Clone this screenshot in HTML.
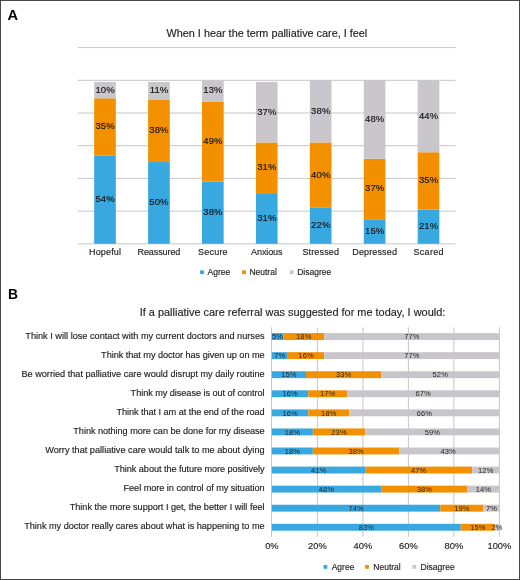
<!DOCTYPE html>
<html><head><meta charset="utf-8"><title>Palliative care survey</title>
<style>html,body{margin:0;padding:0;background:#fff;width:520px;height:580px;overflow:hidden}svg{display:block;will-change:transform}</style>
</head><body>
<svg width="520" height="580" viewBox="0 0 520 580" font-family="Liberation Sans, sans-serif">
<rect x="0" y="0" width="520" height="580" fill="#fff"/>
<text x="7.6" y="19.8" font-size="13.8" font-weight="bold" fill="#000" textLength="10.6" lengthAdjust="spacingAndGlyphs">A</text>
<text x="7.9" y="299.0" font-size="13.8" font-weight="bold" fill="#000">B</text>
<text x="266.90" y="36.90" font-size="10.85" text-anchor="middle" fill="#1e1e1e" stroke="#1e1e1e" stroke-width="0.15">When I hear the term palliative care, I feel</text>
<line x1="78" x2="455.5" y1="243.80" y2="243.80" stroke="#c6c6c6" stroke-width="1"/>
<line x1="78" x2="455.5" y1="211.10" y2="211.10" stroke="#c6c6c6" stroke-width="1"/>
<line x1="78" x2="455.5" y1="178.40" y2="178.40" stroke="#c6c6c6" stroke-width="1"/>
<line x1="78" x2="455.5" y1="145.70" y2="145.70" stroke="#c6c6c6" stroke-width="1"/>
<line x1="78" x2="455.5" y1="113.00" y2="113.00" stroke="#c6c6c6" stroke-width="1"/>
<line x1="78" x2="455.5" y1="80.30" y2="80.30" stroke="#c6c6c6" stroke-width="1"/>
<line x1="78" x2="455.5" y1="47.60" y2="47.60" stroke="#c6c6c6" stroke-width="1"/>
<rect x="94.17" y="155.51" width="21.65" height="88.29" fill="#38a8e0"/>
<rect x="94.17" y="98.28" width="21.65" height="57.23" fill="#f39000"/>
<rect x="94.17" y="81.94" width="21.65" height="16.35" fill="#c9c7cc"/>
<text x="105.10" y="202.06" font-size="9.5" text-anchor="middle" fill="#141414" stroke="#141414" stroke-width="0.15" letter-spacing="0.1">54%</text>
<text x="105.10" y="129.30" font-size="9.5" text-anchor="middle" fill="#141414" stroke="#141414" stroke-width="0.15" letter-spacing="0.1">35%</text>
<text x="105.10" y="92.51" font-size="9.5" text-anchor="middle" fill="#141414" stroke="#141414" stroke-width="0.15" letter-spacing="0.1">10%</text>
<text x="105.00" y="255.30" font-size="9" text-anchor="middle" fill="#1e1e1e" stroke="#1e1e1e" stroke-width="0.15" textLength="32.00" lengthAdjust="spacing">Hopeful</text>
<rect x="148.10" y="162.05" width="21.65" height="81.75" fill="#38a8e0"/>
<rect x="148.10" y="99.92" width="21.65" height="62.13" fill="#f39000"/>
<rect x="148.10" y="81.94" width="21.65" height="17.99" fill="#c9c7cc"/>
<text x="159.02" y="205.33" font-size="9.5" text-anchor="middle" fill="#141414" stroke="#141414" stroke-width="0.15" letter-spacing="0.1">50%</text>
<text x="159.02" y="133.39" font-size="9.5" text-anchor="middle" fill="#141414" stroke="#141414" stroke-width="0.15" letter-spacing="0.1">38%</text>
<text x="159.02" y="93.33" font-size="9.5" text-anchor="middle" fill="#141414" stroke="#141414" stroke-width="0.15" letter-spacing="0.1">11%</text>
<text x="158.92" y="255.30" font-size="9" text-anchor="middle" fill="#1e1e1e" stroke="#1e1e1e" stroke-width="0.15" textLength="42.90" lengthAdjust="spacing">Reassured</text>
<rect x="202.02" y="181.67" width="21.65" height="62.13" fill="#38a8e0"/>
<rect x="202.02" y="101.55" width="21.65" height="80.12" fill="#f39000"/>
<rect x="202.02" y="80.30" width="21.65" height="21.26" fill="#c9c7cc"/>
<text x="212.94" y="215.14" font-size="9.5" text-anchor="middle" fill="#141414" stroke="#141414" stroke-width="0.15" letter-spacing="0.1">38%</text>
<text x="212.94" y="144.01" font-size="9.5" text-anchor="middle" fill="#141414" stroke="#141414" stroke-width="0.15" letter-spacing="0.1">49%</text>
<text x="212.94" y="93.33" font-size="9.5" text-anchor="middle" fill="#141414" stroke="#141414" stroke-width="0.15" letter-spacing="0.1">13%</text>
<text x="212.84" y="255.30" font-size="9" text-anchor="middle" fill="#1e1e1e" stroke="#1e1e1e" stroke-width="0.15" textLength="29.50" lengthAdjust="spacing">Secure</text>
<rect x="255.94" y="193.12" width="21.65" height="50.69" fill="#38a8e0"/>
<rect x="255.94" y="142.43" width="21.65" height="50.69" fill="#f39000"/>
<rect x="255.94" y="81.94" width="21.65" height="60.50" fill="#c9c7cc"/>
<text x="266.86" y="220.86" font-size="9.5" text-anchor="middle" fill="#141414" stroke="#141414" stroke-width="0.15" letter-spacing="0.1">31%</text>
<text x="266.86" y="170.17" font-size="9.5" text-anchor="middle" fill="#141414" stroke="#141414" stroke-width="0.15" letter-spacing="0.1">31%</text>
<text x="266.86" y="114.58" font-size="9.5" text-anchor="middle" fill="#141414" stroke="#141414" stroke-width="0.15" letter-spacing="0.1">37%</text>
<text x="266.76" y="255.30" font-size="9" text-anchor="middle" fill="#1e1e1e" stroke="#1e1e1e" stroke-width="0.15" textLength="31.30" lengthAdjust="spacing">Anxious</text>
<rect x="309.86" y="207.83" width="21.65" height="35.97" fill="#38a8e0"/>
<rect x="309.86" y="142.43" width="21.65" height="65.40" fill="#f39000"/>
<rect x="309.86" y="80.30" width="21.65" height="62.13" fill="#c9c7cc"/>
<text x="320.78" y="228.22" font-size="9.5" text-anchor="middle" fill="#141414" stroke="#141414" stroke-width="0.15" letter-spacing="0.1">22%</text>
<text x="320.78" y="177.53" font-size="9.5" text-anchor="middle" fill="#141414" stroke="#141414" stroke-width="0.15" letter-spacing="0.1">40%</text>
<text x="320.78" y="113.77" font-size="9.5" text-anchor="middle" fill="#141414" stroke="#141414" stroke-width="0.15" letter-spacing="0.1">38%</text>
<text x="320.68" y="255.30" font-size="9" text-anchor="middle" fill="#1e1e1e" stroke="#1e1e1e" stroke-width="0.15" textLength="36.60" lengthAdjust="spacing">Stressed</text>
<rect x="363.78" y="219.28" width="21.65" height="24.53" fill="#38a8e0"/>
<rect x="363.78" y="158.78" width="21.65" height="60.50" fill="#f39000"/>
<rect x="363.78" y="80.30" width="21.65" height="78.48" fill="#c9c7cc"/>
<text x="374.70" y="233.94" font-size="9.5" text-anchor="middle" fill="#141414" stroke="#141414" stroke-width="0.15" letter-spacing="0.1">15%</text>
<text x="374.70" y="191.43" font-size="9.5" text-anchor="middle" fill="#141414" stroke="#141414" stroke-width="0.15" letter-spacing="0.1">37%</text>
<text x="374.70" y="121.94" font-size="9.5" text-anchor="middle" fill="#141414" stroke="#141414" stroke-width="0.15" letter-spacing="0.1">48%</text>
<text x="374.60" y="255.30" font-size="9" text-anchor="middle" fill="#1e1e1e" stroke="#1e1e1e" stroke-width="0.15" textLength="44.60" lengthAdjust="spacing">Depressed</text>
<rect x="417.69" y="209.47" width="21.65" height="34.34" fill="#38a8e0"/>
<rect x="417.69" y="152.24" width="21.65" height="57.23" fill="#f39000"/>
<rect x="417.69" y="80.30" width="21.65" height="71.94" fill="#c9c7cc"/>
<text x="428.62" y="229.03" font-size="9.5" text-anchor="middle" fill="#141414" stroke="#141414" stroke-width="0.15" letter-spacing="0.1">21%</text>
<text x="428.62" y="183.25" font-size="9.5" text-anchor="middle" fill="#141414" stroke="#141414" stroke-width="0.15" letter-spacing="0.1">35%</text>
<text x="428.62" y="118.67" font-size="9.5" text-anchor="middle" fill="#141414" stroke="#141414" stroke-width="0.15" letter-spacing="0.1">44%</text>
<text x="428.52" y="255.30" font-size="9" text-anchor="middle" fill="#1e1e1e" stroke="#1e1e1e" stroke-width="0.15" textLength="29.90" lengthAdjust="spacing">Scared</text>
<rect x="200.1" y="270.3" width="3.8" height="3.8" fill="#38a8e0"/>
<text x="207.60" y="275.20" font-size="8.5" fill="#1e1e1e" stroke="#1e1e1e" stroke-width="0.15">Agree</text>
<rect x="242.1" y="270.3" width="3.8" height="3.8" fill="#f39000"/>
<text x="249.40" y="275.20" font-size="8.5" fill="#1e1e1e" stroke="#1e1e1e" stroke-width="0.15">Neutral</text>
<rect x="289.8" y="270.3" width="3.8" height="3.8" fill="#c9c7cc"/>
<text x="297.20" y="275.20" font-size="8.5" fill="#1e1e1e" stroke="#1e1e1e" stroke-width="0.15">Disagree</text>
<text x="292.50" y="315.80" font-size="10.95" text-anchor="middle" fill="#1e1e1e" stroke="#1e1e1e" stroke-width="0.15">If a palliative care referral was suggested for me today, I would:</text>
<line x1="271.5" x2="271.5" y1="327.3" y2="536.8" stroke="#c6c6c6" stroke-width="1"/>
<line x1="317.40" x2="317.40" y1="327.3" y2="536.8" stroke="#c6c6c6" stroke-width="1"/>
<line x1="362.90" x2="362.90" y1="327.3" y2="536.8" stroke="#c6c6c6" stroke-width="1"/>
<line x1="408.40" x2="408.40" y1="327.3" y2="536.8" stroke="#c6c6c6" stroke-width="1"/>
<line x1="453.90" x2="453.90" y1="327.3" y2="536.8" stroke="#c6c6c6" stroke-width="1"/>
<line x1="499.40" x2="499.40" y1="327.3" y2="536.8" stroke="#c6c6c6" stroke-width="1"/>
<rect x="271.90" y="333.10" width="11.38" height="6.9" fill="#38a8e0"/>
<rect x="283.27" y="333.10" width="40.95" height="6.9" fill="#f39000"/>
<rect x="324.22" y="333.10" width="175.17" height="6.9" fill="#c8c6cb"/>
<text x="277.59" y="339.24" font-size="7.5" text-anchor="middle" fill="#262626" letter-spacing="0.1">5%</text>
<text x="303.75" y="339.24" font-size="7.5" text-anchor="middle" fill="#262626" letter-spacing="0.1">18%</text>
<text x="411.81" y="339.24" font-size="7.5" text-anchor="middle" fill="#262626" letter-spacing="0.1">77%</text>
<text x="264.60" y="339.05" font-size="9.17" text-anchor="end" fill="#1e1e1e" stroke="#1e1e1e" stroke-width="0.15" textLength="239.30" lengthAdjust="spacing">Think I will lose contact with my current doctors and nurses</text>
<rect x="271.90" y="352.17" width="15.92" height="6.9" fill="#38a8e0"/>
<rect x="287.82" y="352.17" width="36.40" height="6.9" fill="#f39000"/>
<rect x="324.22" y="352.17" width="175.17" height="6.9" fill="#c8c6cb"/>
<text x="279.86" y="358.31" font-size="7.5" text-anchor="middle" fill="#262626" letter-spacing="0.1">7%</text>
<text x="306.02" y="358.31" font-size="7.5" text-anchor="middle" fill="#262626" letter-spacing="0.1">16%</text>
<text x="411.81" y="358.31" font-size="7.5" text-anchor="middle" fill="#262626" letter-spacing="0.1">77%</text>
<text x="264.60" y="358.05" font-size="9.17" text-anchor="end" fill="#1e1e1e" stroke="#1e1e1e" stroke-width="0.15" textLength="163.50" lengthAdjust="spacing">Think that my doctor has given up on me</text>
<rect x="271.90" y="371.24" width="34.12" height="6.9" fill="#38a8e0"/>
<rect x="306.02" y="371.24" width="75.08" height="6.9" fill="#f39000"/>
<rect x="381.10" y="371.24" width="118.30" height="6.9" fill="#c8c6cb"/>
<text x="288.96" y="377.38" font-size="7.5" text-anchor="middle" fill="#262626" letter-spacing="0.1">15%</text>
<text x="343.56" y="377.38" font-size="7.5" text-anchor="middle" fill="#262626" letter-spacing="0.1">33%</text>
<text x="440.25" y="377.38" font-size="7.5" text-anchor="middle" fill="#262626" letter-spacing="0.1">52%</text>
<text x="264.60" y="377.05" font-size="9.17" text-anchor="end" fill="#1e1e1e" stroke="#1e1e1e" stroke-width="0.15" textLength="243.20" lengthAdjust="spacing">Be worried that palliative care would disrupt my daily routine</text>
<rect x="271.90" y="390.31" width="36.40" height="6.9" fill="#38a8e0"/>
<rect x="308.30" y="390.31" width="38.67" height="6.9" fill="#f39000"/>
<rect x="346.97" y="390.31" width="152.42" height="6.9" fill="#c8c6cb"/>
<text x="290.10" y="396.44" font-size="7.5" text-anchor="middle" fill="#262626" letter-spacing="0.1">16%</text>
<text x="327.64" y="396.44" font-size="7.5" text-anchor="middle" fill="#262626" letter-spacing="0.1">17%</text>
<text x="423.19" y="396.44" font-size="7.5" text-anchor="middle" fill="#262626" letter-spacing="0.1">67%</text>
<text x="264.60" y="396.05" font-size="9.17" text-anchor="end" fill="#1e1e1e" stroke="#1e1e1e" stroke-width="0.15" textLength="134.00" lengthAdjust="spacing">Think my disease is out of control</text>
<rect x="271.90" y="409.38" width="36.40" height="6.9" fill="#38a8e0"/>
<rect x="308.30" y="409.38" width="40.95" height="6.9" fill="#f39000"/>
<rect x="349.25" y="409.38" width="150.15" height="6.9" fill="#c8c6cb"/>
<text x="290.10" y="415.51" font-size="7.5" text-anchor="middle" fill="#262626" letter-spacing="0.1">16%</text>
<text x="328.77" y="415.51" font-size="7.5" text-anchor="middle" fill="#262626" letter-spacing="0.1">18%</text>
<text x="424.32" y="415.51" font-size="7.5" text-anchor="middle" fill="#262626" letter-spacing="0.1">66%</text>
<text x="264.60" y="415.05" font-size="9.17" text-anchor="end" fill="#1e1e1e" stroke="#1e1e1e" stroke-width="0.15" textLength="148.20" lengthAdjust="spacing">Think that I am at the end of the road</text>
<rect x="271.90" y="428.45" width="40.95" height="6.9" fill="#38a8e0"/>
<rect x="312.85" y="428.45" width="52.32" height="6.9" fill="#f39000"/>
<rect x="365.17" y="428.45" width="134.22" height="6.9" fill="#c8c6cb"/>
<text x="292.38" y="434.59" font-size="7.5" text-anchor="middle" fill="#262626" letter-spacing="0.1">18%</text>
<text x="339.01" y="434.59" font-size="7.5" text-anchor="middle" fill="#262626" letter-spacing="0.1">23%</text>
<text x="432.29" y="434.59" font-size="7.5" text-anchor="middle" fill="#262626" letter-spacing="0.1">59%</text>
<text x="264.60" y="434.05" font-size="9.17" text-anchor="end" fill="#1e1e1e" stroke="#1e1e1e" stroke-width="0.15" textLength="191.30" lengthAdjust="spacing">Think nothing more can be done for my disease</text>
<rect x="271.90" y="447.52" width="40.95" height="6.9" fill="#38a8e0"/>
<rect x="312.85" y="447.52" width="86.45" height="6.9" fill="#f39000"/>
<rect x="399.30" y="447.52" width="100.10" height="6.9" fill="#c8c6cb"/>
<text x="292.38" y="453.66" font-size="7.5" text-anchor="middle" fill="#262626" letter-spacing="0.1">18%</text>
<text x="356.07" y="453.66" font-size="7.5" text-anchor="middle" fill="#262626" letter-spacing="0.1">38%</text>
<text x="448.21" y="453.66" font-size="7.5" text-anchor="middle" fill="#262626" letter-spacing="0.1">43%</text>
<text x="264.60" y="453.05" font-size="9.17" text-anchor="end" fill="#1e1e1e" stroke="#1e1e1e" stroke-width="0.15" textLength="219.40" lengthAdjust="spacing">Worry that palliative care would talk to me about dying</text>
<rect x="271.90" y="466.59" width="93.27" height="6.9" fill="#38a8e0"/>
<rect x="365.17" y="466.59" width="106.92" height="6.9" fill="#f39000"/>
<rect x="472.10" y="466.59" width="27.30" height="6.9" fill="#c8c6cb"/>
<text x="318.54" y="472.73" font-size="7.5" text-anchor="middle" fill="#262626" letter-spacing="0.1">41%</text>
<text x="418.64" y="472.73" font-size="7.5" text-anchor="middle" fill="#262626" letter-spacing="0.1">47%</text>
<text x="485.75" y="472.73" font-size="7.5" text-anchor="middle" fill="#262626" letter-spacing="0.1">12%</text>
<text x="264.60" y="472.05" font-size="9.17" text-anchor="end" fill="#1e1e1e" stroke="#1e1e1e" stroke-width="0.15" textLength="150.30" lengthAdjust="spacing">Think about the future more positively</text>
<rect x="271.90" y="485.66" width="109.20" height="6.9" fill="#38a8e0"/>
<rect x="381.10" y="485.66" width="86.45" height="6.9" fill="#f39000"/>
<rect x="467.55" y="485.66" width="31.85" height="6.9" fill="#c8c6cb"/>
<text x="326.50" y="491.80" font-size="7.5" text-anchor="middle" fill="#262626" letter-spacing="0.1">48%</text>
<text x="424.32" y="491.80" font-size="7.5" text-anchor="middle" fill="#262626" letter-spacing="0.1">38%</text>
<text x="483.47" y="491.80" font-size="7.5" text-anchor="middle" fill="#262626" letter-spacing="0.1">14%</text>
<text x="264.60" y="491.05" font-size="9.17" text-anchor="end" fill="#1e1e1e" stroke="#1e1e1e" stroke-width="0.15" textLength="141.10" lengthAdjust="spacing">Feel more in control of my situation</text>
<rect x="271.90" y="504.73" width="168.35" height="6.9" fill="#38a8e0"/>
<rect x="440.25" y="504.73" width="43.23" height="6.9" fill="#f39000"/>
<rect x="483.47" y="504.73" width="15.92" height="6.9" fill="#c8c6cb"/>
<text x="356.07" y="510.87" font-size="7.5" text-anchor="middle" fill="#262626" letter-spacing="0.1">74%</text>
<text x="461.86" y="510.87" font-size="7.5" text-anchor="middle" fill="#262626" letter-spacing="0.1">19%</text>
<text x="491.44" y="510.87" font-size="7.5" text-anchor="middle" fill="#262626" letter-spacing="0.1">7%</text>
<text x="264.60" y="510.05" font-size="9.17" text-anchor="end" fill="#1e1e1e" stroke="#1e1e1e" stroke-width="0.15" textLength="194.90" lengthAdjust="spacing">Think the more support I get, the better I will feel</text>
<rect x="271.90" y="523.80" width="188.82" height="6.9" fill="#38a8e0"/>
<rect x="460.72" y="523.80" width="34.12" height="6.9" fill="#f39000"/>
<rect x="494.85" y="523.80" width="4.55" height="6.9" fill="#c8c6cb"/>
<text x="366.31" y="529.93" font-size="7.5" text-anchor="middle" fill="#262626" letter-spacing="0.1">83%</text>
<text x="477.79" y="529.93" font-size="7.5" text-anchor="middle" fill="#262626" letter-spacing="0.1">15%</text>
<text x="497.12" y="529.93" font-size="7.5" text-anchor="middle" fill="#262626" letter-spacing="0.1">2%</text>
<text x="264.60" y="529.05" font-size="9.17" text-anchor="end" fill="#1e1e1e" stroke="#1e1e1e" stroke-width="0.15" textLength="240.40" lengthAdjust="spacing">Think my doctor really cares about what is happening to me</text>
<text x="271.90" y="549.00" font-size="9.3" text-anchor="middle" fill="#1e1e1e" stroke="#1e1e1e" stroke-width="0.15">0%</text>
<text x="317.40" y="549.00" font-size="9.3" text-anchor="middle" fill="#1e1e1e" stroke="#1e1e1e" stroke-width="0.15">20%</text>
<text x="362.90" y="549.00" font-size="9.3" text-anchor="middle" fill="#1e1e1e" stroke="#1e1e1e" stroke-width="0.15">40%</text>
<text x="408.40" y="549.00" font-size="9.3" text-anchor="middle" fill="#1e1e1e" stroke="#1e1e1e" stroke-width="0.15">60%</text>
<text x="453.90" y="549.00" font-size="9.3" text-anchor="middle" fill="#1e1e1e" stroke="#1e1e1e" stroke-width="0.15">80%</text>
<text x="499.40" y="549.00" font-size="9.3" text-anchor="middle" fill="#1e1e1e" stroke="#1e1e1e" stroke-width="0.15">100%</text>
<rect x="323.5" y="565" width="3.8" height="3.8" fill="#38a8e0"/>
<text x="331.70" y="569.50" font-size="8.5" fill="#1e1e1e" stroke="#1e1e1e" stroke-width="0.15">Agree</text>
<rect x="365.1" y="565" width="3.8" height="3.8" fill="#f39000"/>
<text x="373.30" y="569.50" font-size="8.5" fill="#1e1e1e" stroke="#1e1e1e" stroke-width="0.15">Neutral</text>
<rect x="412.4" y="565" width="3.8" height="3.8" fill="#c9c7cc"/>
<text x="420.60" y="569.50" font-size="8.5" fill="#1e1e1e" stroke="#1e1e1e" stroke-width="0.15">Disagree</text>
<rect x="0.5" y="0.5" width="519" height="579" fill="none" stroke="#474747" stroke-width="1"/>
</svg>
</body></html>
